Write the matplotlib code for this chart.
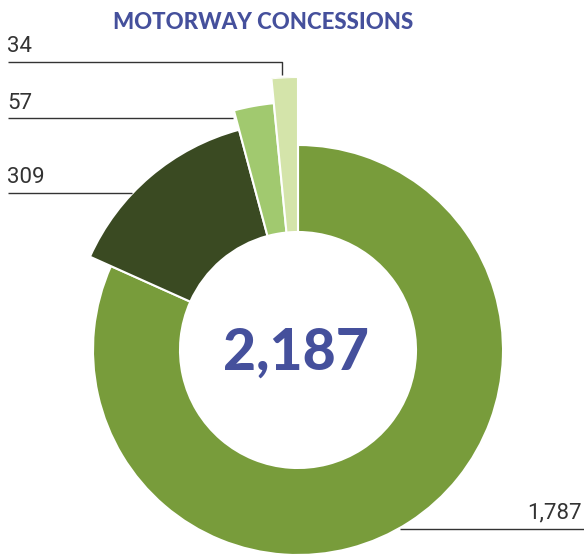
import numpy as np
import matplotlib as mpl
import matplotlib.pyplot as plt

# data
labels = ["1,787", "309", "57", "34"]
values = [1787, 309, 57, 34]
outer_r = [205, 228, 248, 273]       # px, each slice has its own outer radius
colors = ["#789C3B", "#3A4A22", "#A1C96F", "#D4E4AA"]
title = "MOTORWAY CONCESSIONS"
total_label = "2,187"

W, H = 584, 557
CX, CY = 298, 350          # donut centre (px, from top)
R_IN = 118
RMAX = max(outer_r)

TITLE_COLOR = "#45509C"
TEXT_COLOR = "#333333"
LABEL_FONT = ["Liberation Sans Narrow", "Roboto", "DejaVu Sans"]
HEAD_FONT = ["Lato", "DejaVu Sans"]

fig = plt.figure(figsize=(W / 100, H / 100), dpi=100)

# polar axes placed so that 1 radial unit == 1 px
pax = fig.add_axes([(CX - RMAX) / W, (H - CY - RMAX) / H, 2 * RMAX / W, 2 * RMAX / H],
                   projection="polar")
pax.set_theta_zero_location("N")
pax.set_theta_direction(-1)
widths = 2 * np.pi * np.asarray(values) / sum(values)
starts = np.concatenate([[0], np.cumsum(widths)[:-1]])
pax.bar(starts, np.asarray(outer_r) - R_IN, width=widths, bottom=R_IN,
        align="edge", color=colors, edgecolor="white", linewidth=1.5)
pax.set_rlim(0, RMAX)
pax.set_axis_off()

# overlay in pixel coordinates for texts and leader lines
ax = fig.add_axes([0, 0, 1, 1])
ax.set_xlim(0, W)
ax.set_ylim(H, 0)
ax.set_axis_off()
ax.patch.set_alpha(0)

ax.text(263, 29, title, ha="center", va="baseline", fontsize=16,
        fontweight="black", color=TITLE_COLOR, family=HEAD_FONT)
ax.text(CX - 2, CY + 20, total_label, ha="center", va="baseline", fontsize=41,
        fontweight="black", color=TITLE_COLOR, family=HEAD_FONT)

line_kw = dict(color=TEXT_COLOR, lw=1.0, solid_capstyle="butt")
# 34
ax.plot([8, 282, 282], [62, 62, 75], **line_kw)
ax.text(7, 52, labels[3], ha="left", va="baseline", fontsize=16,
        color=TEXT_COLOR, family=LABEL_FONT)
# 57
ax.plot([8, 233], [118, 118], **line_kw)
ax.text(7, 109, labels[2], ha="left", va="baseline", fontsize=16,
        color=TEXT_COLOR, family=LABEL_FONT)
# 309
ax.plot([8, 132], [193, 193], **line_kw)
ax.text(7, 183, labels[1], ha="left", va="baseline", fontsize=16,
        color=TEXT_COLOR, family=LABEL_FONT)
# 1,787
ax.plot([400, 584], [529, 529], **line_kw)
ax.text(582, 518, labels[0], ha="right", va="baseline", fontsize=16,
        color=TEXT_COLOR, family=LABEL_FONT)

fig.savefig("out.png", dpi=100)
